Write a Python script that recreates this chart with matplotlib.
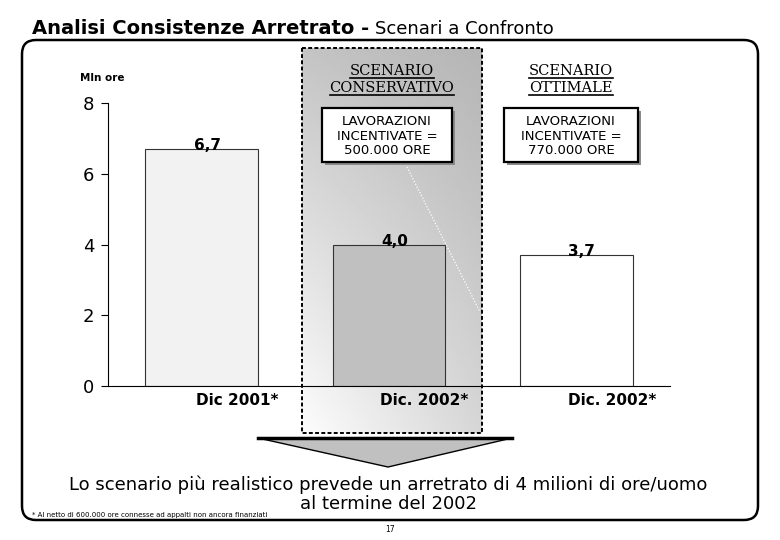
import matplotlib.pyplot as plt
import numpy as np
from matplotlib.patches import FancyBboxPatch, Rectangle, Polygon

categories = ["Dic 2001*", "Dic. 2002*", "Dic. 2002*"]
values = [6.7, 4.0, 3.7]
value_labels = ["6,7", "4,0", "3,7"]
bar_colors = ["#f2f2f2", "#c0c0c0", "#ffffff"]
yticks = [0, 2, 4, 6, 8]
scenario_heads = [["SCENARIO", "CONSERVATIVO"], ["SCENARIO", "OTTIMALE"]]
scenario_boxes = ["LAVORAZIONI\nINCENTIVATE =\n500.000 ORE",
                  "LAVORAZIONI\nINCENTIVATE =\n770.000 ORE"]

W, H = 780, 540
fig = plt.figure(figsize=(7.8, 5.4), dpi=100)

# background layer in pixel coordinates
bg = fig.add_axes([0, 0, 1, 1], zorder=0)
bg.set_xlim(0, W)
bg.set_ylim(H, 0)
bg.axis("off")

# shaded "conservative" panel with gradient
u = np.linspace(0, 1, 200)[None, :]
v = np.linspace(0, 1, 400)[:, None]
grad = ((1 - u) * (1 - v) * 0.77 + u * (1 - v) * 0.71
        + (1 - u) * v * 0.99 + u * v * 0.84)
bg.imshow(grad, cmap="gray", vmin=0, vmax=1, extent=(302, 482, 433, 48),
          origin="upper", aspect="auto", zorder=1)
bg.add_patch(Rectangle((302, 48), 180, 385, fill=False, ec="black", lw=1.4,
                       ls=(0, (2, 1.2)), zorder=3))
bg.plot([407, 480], [167, 312], color="white", lw=0.9, ls=(0, (1, 1.5)), zorder=2)

# rounded frame
bg.add_patch(FancyBboxPatch((22, 40), 736, 480, boxstyle="round,pad=0,rounding_size=14",
                            fill=False, ec="black", lw=1.8, zorder=4))

# title
t1 = bg.text(32, 34, "Analisi Consistenze Arretrato -", fontsize=14, fontweight="bold",
             ha="left", va="baseline")
fig.canvas.draw()
r = fig.canvas.get_renderer()
bb = t1.get_window_extent(r).transformed(bg.transData.inverted())
bg.text(bb.x1 + 6, 34, "Scenari a Confronto", fontsize=13, ha="left", va="baseline")

# scenario headers (underlined) and boxes
head_x = [392, 571]
head_y = [[75, 92], [75, 92]]
for hx, lines, ys in zip(head_x, scenario_heads, head_y):
    for line, yy in zip(lines, ys):
        t = bg.text(hx, yy, line, fontsize=10.5, family="DejaVu Serif",
                    ha="center", va="baseline", zorder=5)
        fig.canvas.draw()
        b = t.get_window_extent(r).transformed(bg.transData.inverted())
        bg.plot([b.x0, b.x1], [yy + 2.5, yy + 2.5], color="black", lw=1.2, zorder=5)

box_geo = [(322, 108, 130, 54), (504, 108, 134, 54)]
for (bx, by, bw, bh), txt in zip(box_geo, scenario_boxes):
    bg.add_patch(Rectangle((bx + 3, by + 3), bw, bh, fc="#8a8a8a", ec="none", zorder=5))
    bg.add_patch(Rectangle((bx, by), bw, bh, fc="white", ec="black", lw=1.6, zorder=6))
    bg.text(bx + bw / 2, by + bh / 2 + 1, txt, fontsize=9.5, ha="center", va="center",
            linespacing=1.15, zorder=7)

# arrow
bg.add_patch(Polygon([(258, 438), (512, 438), (388, 467)], closed=True,
                     fc="#c0c0c0", ec="black", lw=1, zorder=3))
bg.plot([258, 512], [438, 438], color="black", lw=2.5, zorder=4)

bg.text(388, 494, "Lo scenario più realistico prevede un arretrato di 4 milioni di ore/uomo\n"
        "al termine del 2002", fontsize=13, ha="center", va="center", linespacing=1.05)
bg.text(32, 515, "* Al netto di 600.000 ore connesse ad appalti non ancora finanziati",
        fontsize=5, ha="left", va="center")
bg.text(390, 530, "17", fontsize=5.5, ha="center", va="center")
bg.text(80, 78, "Mln ore", fontsize=7.5, fontweight="bold", ha="left", va="center")

# chart
ax = fig.add_axes([108 / W, 1 - 386 / H, (670 - 108) / W, (386 - 103) / H], zorder=2)
ax.patch.set_visible(False)
x = np.arange(len(values))
ax.bar(x, values, width=0.6, color=bar_colors, edgecolor="#333333", linewidth=0.8)
for xi, val, lab in zip(x, values, value_labels):
    ax.annotate(lab, (xi, val), xytext=(4, -3), textcoords="offset points",
                ha="center", va="bottom", fontsize=11, fontweight="bold")
ax.set_xlim(-0.5, 2.5)
ax.set_ylim(0, 8)
ax.set_yticks(yticks)
ax.tick_params(axis="y", labelsize=13, length=5, pad=5)
ax.set_xticks(x + 0.19)
ax.set_xticklabels(categories, fontsize=11, fontweight="bold")
ax.tick_params(axis="x", length=0, pad=5)
for s in ["top", "right"]:
    ax.spines[s].set_visible(False)

plt.savefig("out.png", dpi=100)
